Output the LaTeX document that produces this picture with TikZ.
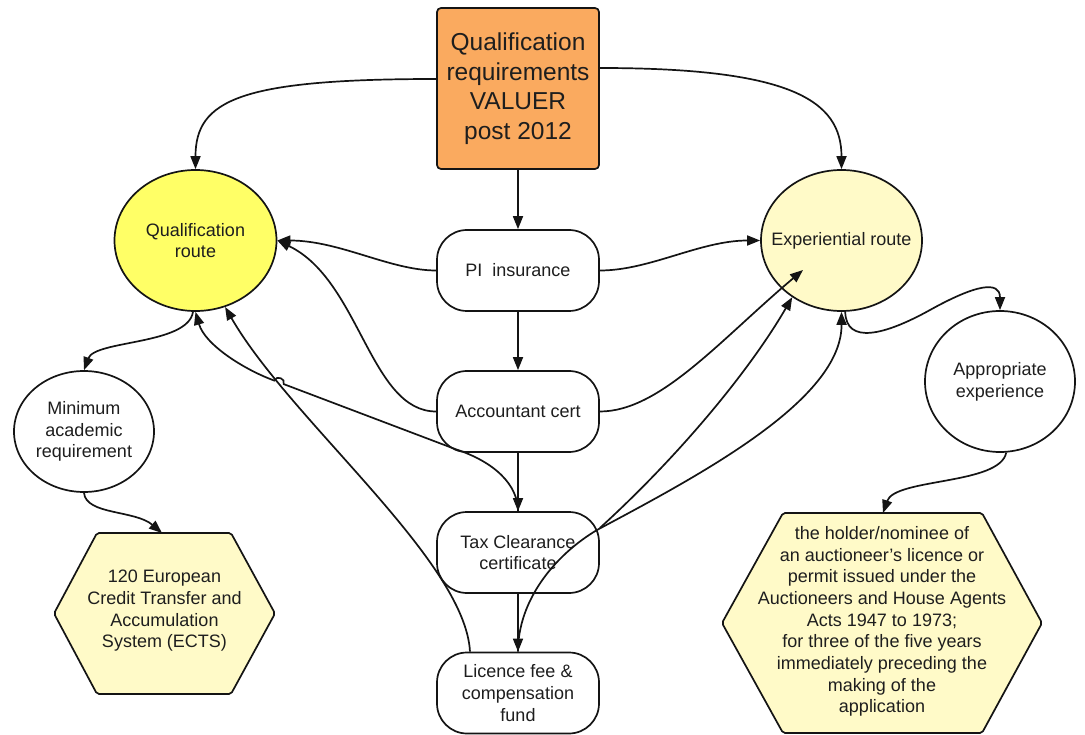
\documentclass[tikz,border=0pt]{standalone}
\usepackage{fontspec}
\setmainfont{Liberation Sans}
\usetikzlibrary{arrows.meta,shapes.geometric}
\definecolor{orangebox}{RGB}{250,170,95}
\definecolor{qualyellow}{RGB}{255,255,102}
\definecolor{paleyellow}{RGB}{255,250,200}
\definecolor{inkline}{RGB}{20,20,20}
\definecolor{inktext}{RGB}{30,30,30}

\begin{document}
\begin{tikzpicture}[x=1pt,y=-1pt,
  every node/.style={text=inktext},
  link/.style={draw=inkline, line width=1.7pt, -{Triangle[length=13pt,width=10pt]}},
  bodytext/.style={font=\fontsize{18}{21.7}\selectfont, align=center},
  stage/.style={draw=inkline, line width=1.7pt, fill=white, rounded corners=30pt,
    minimum width=162pt, minimum height=81pt, bodytext},
  route/.style={draw=inkline, line width=1.7pt, ellipse, inner sep=0pt},
  hexagon/.style={draw=inkline, line width=1.7pt, fill=paleyellow, rounded corners=2pt},
]
\fill[white] (0,0) rectangle (1085,735);
\useasboundingbox (0,0) rectangle (1085,735);

% title box
\node[draw=inkline, line width=1.7pt, fill=orangebox, rounded corners=4pt,
  minimum width=162pt, minimum height=161pt,
  font=\fontsize{24.5}{29.5}\selectfont, align=center] (top) at (518,88.5)
  {Qualification\\requirements\\VALUER\\post 2012};

% the two routes and their sub-requirements
\node[route, fill=qualyellow, minimum width=162pt, minimum height=141pt,
  label={[name=qualtext,bodytext]center:{Qualification\\route}}] (qual) at (195.5,240.5) {};
\node[route, fill=paleyellow, minimum width=161pt, minimum height=141pt,
  label={[name=exptext,bodytext]center:{Experiential route}}] (exp) at (841.5,240.5) {};
\node[route, fill=white, minimum width=140pt, minimum height=121pt,
  label={[name=minatext,bodytext]center:{Minimum\\academic\\requirement}}] (mina) at (84,431.5) {};
\node[route, fill=white, minimum width=150pt, minimum height=141pt,
  label={[name=apprtext,bodytext]center:{Appropriate\\experience}}] (appr) at (1000,381.5) {};

% central column of common requirements
\node[stage] (pi)  at (518,270.5) {PI\ \ insurance};
\node[stage] (acc) at (518,411.5) {Accountant cert};
\node[stage] (tax) at (518,552.5) {Tax Clearance\\certificate};
\node[stage] (lic) at (518,693)   {Licence fee \&\\compensation\\fund};

% hexagonal detail boxes
\draw[hexagon] (97,533) -- (231,533) -- (275,613.5) -- (231,694) -- (97,694) -- (54,613.5) -- cycle;
\node[bodytext] (ects) at (164.5,611)
  {120 European\\Credit Transfer and\\Accumulation\\System (ECTS)};
\coordinate (ectsTop) at (162,533);

\draw[hexagon] (783,513) -- (982,513) -- (1042,623) -- (982,733) -- (783,733) -- (722,623) -- cycle;
\node[bodytext] (licholder) at (882,621.5)
  {the holder/nominee of\\an auctioneer’s licence or\\permit issued under the\\Auctioneers and House Agents\\Acts 1947 to 1973;\\for three of the five years\\immediately preceding the\\making of the\\application};
\coordinate (holderTop) at (883,513);

\coordinate (expIn) at (803,270);

% title to both routes
\draw[link] ([yshift=9.5pt]top.west) .. controls (240,79) and (195.5,100) .. (qual.north);
\draw[link] ([yshift=20.5pt]top.east) .. controls (790,68) and (841.5,100) .. (exp.north);

% spine
\draw[link] (top.south) -- (pi.north);
\draw[link] (pi.south) -- (acc.north);
\draw[link] (acc.south) -- (tax.north);
\draw[link] (tax.south) -- (lic.north);

% PI insurance
\draw[link] (pi.west) .. controls (390,270.5) and (340,240.5) .. (qual.east);
\draw[link] (pi.east) .. controls (650,270.5) and (700,240.5) .. (exp.west);

% Accountant cert
\draw[link] (acc.west) .. controls (370,411.5) and (360,280) .. (qual.east);
\draw[link] (acc.east) .. controls (660,411.5) and (720,340) .. (expIn);

% Tax clearance (with a hop over the licence line)
\draw[link] (tax.north) .. controls (518,485) and (495,462) .. (455,449)
  -- (283.7,384.1) .. controls (285.8,378.5) and (276.5,375.0) .. (274.4,380.6)
  .. controls (245,370) and (205,345) .. (qual.south);
\draw[link] ([yshift=24.5pt]tax.east) .. controls (680,455) and (750,370) .. (exp.-131);

% Licence fee
\draw[link] ([xshift=-48pt]lic.north) .. controls (465,560) and (290,420) .. (qual.-66);
\draw[link] (lic.north) .. controls (518,600) and (555,555) .. (597,530)
  .. controls (700,475) and (842,400) .. (exp.south);

% routes to their requirements
\draw[link] (qual.-92) .. controls (188,345) and (95,340) .. (mina.north);
\draw[link] (mina.south) .. controls (86,515) and (135,510) .. (ectsTop);
\draw[link] (exp.-87) .. controls (846,345) and (885,335) .. (930,310)
  .. controls (975,285) and (1000,280) .. (appr.north);
\draw[link] (appr.-85) .. controls (1000,485) and (895,478) .. (holderTop);
\end{tikzpicture}
\end{document}
